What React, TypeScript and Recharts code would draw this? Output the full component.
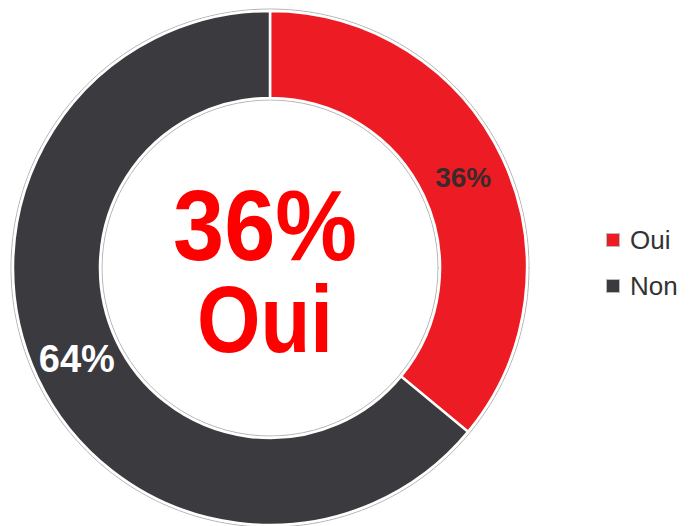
import { Cell, Label, Legend, Pie, PieChart } from "recharts"

const categories = ["Oui", "Non"]
const shares = [36, 64]
const colors = ["#ED1C24", "#3B3A3F"]
const labelColors = ["#3a2a2c", "#ffffff"]
const headline = ["36%", "Oui"]

const data = categories.map((name, index) => ({
  name,
  value: shares[index],
}))

const RADIAN = Math.PI / 180
const FONT = "'Liberation Sans', Arial, sans-serif"
const CX = 265
const CY = 263

function renderSliceLabel(props: any) {
  const { cx, cy, midAngle, innerRadius, outerRadius, index, value } = props
  const r = (innerRadius + outerRadius) / 2
  const x = cx + r * Math.cos(-midAngle * RADIAN)
  const y = cy + r * Math.sin(-midAngle * RADIAN)
  return (
    <text
      x={x}
      y={y}
      fill={labelColors[index]}
      textAnchor="middle"
      dominantBaseline="central"
      fontFamily={FONT}
      fontWeight="bold"
      fontSize={index === 0 ? 28 : 38}
    >
      {`${value}%`}
    </text>
  )
}

function CenterText() {
  return (
    <g fontFamily={FONT} fontWeight="bold" fill="#FF0000" textAnchor="middle">
      <text
        x={CX}
        y={CY - 3}
        fontSize={100}
        textLength={184}
        lengthAdjust="spacingAndGlyphs"
      >
        {headline[0]}
      </text>
      <text
        x={CX}
        y={CY + 89}
        fontSize={94}
        textLength={136}
        lengthAdjust="spacingAndGlyphs"
      >
        {headline[1]}
      </text>
    </g>
  )
}

function LegendContent() {
  return (
    <div style={{ fontFamily: FONT, fontSize: 26, color: "#333" }}>
      {data.map((entry, index) => (
        <div
          key={entry.name}
          style={{ display: "flex", alignItems: "center", height: 46 }}
        >
          <span
            style={{
              width: 12,
              height: 12,
              background: colors[index],
              border: "1px solid #bbb",
              outline: "1px solid #fff",
              marginRight: 10,
            }}
          />
          {entry.name}
        </div>
      ))}
    </div>
  )
}

export default function App() {
  return (
    <div style={{ position: "absolute", left: 0, top: 0, background: "#fff" }}>
      <PieChart width={692} height={526}>
        <Pie
          data={[{ value: 1 }]}
          dataKey="value"
          cx={CX}
          cy={CY}
          innerRadius={168}
          outerRadius={259}
          fill="#fff"
          stroke="#b5b5b5"
          strokeWidth={1}
          isAnimationActive={false}
        />
        <Pie
          data={data}
          dataKey="value"
          nameKey="name"
          cx={CX}
          cy={CY}
          innerRadius={170}
          outerRadius={257}
          startAngle={90}
          endAngle={-270}
          stroke="#fff"
          strokeWidth={2.5}
          label={renderSliceLabel}
          labelLine={false}
          isAnimationActive={false}
        >
          {data.map((entry, index) => (
            <Cell key={entry.name} fill={colors[index]} />
          ))}
          <Label position="center" content={CenterText} />
        </Pie>
        <Legend
          layout="vertical"
          content={<LegendContent />}
          wrapperStyle={{ position: "absolute", left: 606, top: 217, width: 90 }}
        />
      </PieChart>
    </div>
  )
}
